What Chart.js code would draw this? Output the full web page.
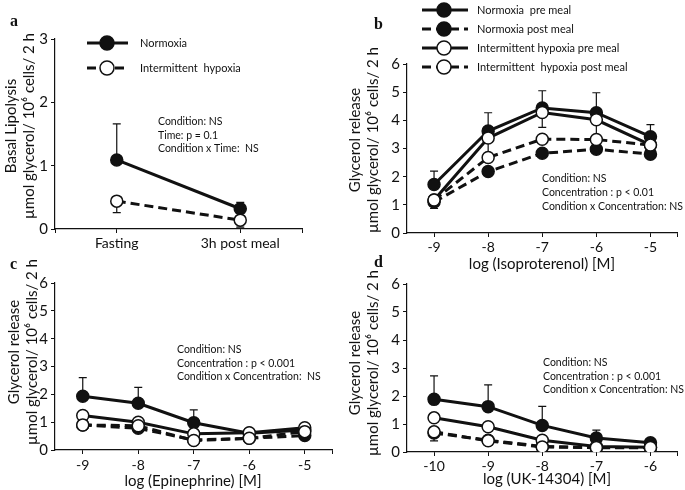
<!DOCTYPE html>
<html><head><meta charset="utf-8">
<script src="https://cdn.jsdelivr.net/npm/chart.js@4.4.1/dist/chart.umd.min.js"></script>
<style>
html,body{margin:0;padding:0;background:#fff;}
#wrap{position:relative;width:685px;height:490px;background:#fff;overflow:hidden;}
canvas{position:absolute;}
</style></head>
<body><div id="wrap">
<canvas id="ca" width="340" height="250" style="left:0;top:0"></canvas>
<canvas id="cb" width="345" height="275" style="left:340px;top:0"></canvas>
<canvas id="cc" width="340" height="240" style="left:0;top:250px"></canvas>
<canvas id="cd" width="345" height="240" style="left:340px;top:250px"></canvas>
</div>
<script>
// ---------- DATA ----------
// Panel a
const aCategories = ['Fasting', '3h post meal'];
const aNormoxia = [1.09, 0.32];
const aNormoxiaErrHi = [1.66, 0.42];
const aHypoxia = [0.44, 0.14];
const aHypoxiaErrLo = [0.26, 0.03];
// Panel b (Isoproterenol)
const bDoses = [-9, -8, -7, -6, -5];
const bNormPre = [1.72, 3.62, 4.44, 4.27, 3.42];
const bNormPreErrHi = [2.2, 4.27, 5.05, 4.98, 3.85];
const bNormPost = [1.1, 2.18, 2.83, 2.97, 2.8];
const bHypPre = [1.17, 3.37, 4.28, 4.02, 3.13];
const bHypPreErrLo = [0.87, 2.75, 3.75, 3.35, 2.95];
const bHypPost = [1.17, 2.68, 3.33, 3.32, 3.12];
// Panel c (Epinephrine)
const cDoses = [-9, -8, -7, -6, -5];
const cNormPre = [1.93, 1.68, 0.98, 0.6, 0.72];
const cNormPreErrHi = [2.6, 2.25, 1.44, null, null];
const cNormPost = [0.9, 0.78, 0.36, 0.42, 0.52];
const cHypPre = [1.24, 1.0, 0.58, 0.62, 0.8];
const cHypPost = [0.9, 0.87, 0.34, 0.42, 0.66];
const cHypPostErrLo = [0.72, null, null, null, null];
// Panel d (UK-14304)
const dDoses = [-10, -9, -8, -7, -6];
const dNormPre = [1.88, 1.62, 0.95, 0.5, 0.33];
const dNormPreErrHi = [2.72, 2.4, 1.63, 0.78, null];
const dNormPost = [0.68, 0.42, 0.2, 0.15, 0.15];
const dHypPre = [1.22, 0.9, 0.42, 0.2, 0.17];
const dHypPost = [0.72, 0.4, 0.18, 0.16, 0.16];
const dHypPostErrLo = [0.4, null, null, null, null];

const yTitleA = ['Basal Lipolysis', 'µmol glycerol/ 10⁶ cells/ 2 h'];
const yTitleG = ['Glycerol release', 'µmol glycerol/ 10⁶ cells/ 2 h'];
const notesA = ['Condition: NS', 'Time: p = 0.1', 'Condition x Time:  NS'];
const notesB = ['Condition: NS', 'Concentration : p < 0.01', 'Condition x Concentration: NS'];
const notesCD = ['Condition: NS', 'Concentration : p < 0.001', 'Condition x Concentration:  NS'];
const notesD = ['Condition: NS', 'Concentration : p < 0.001', 'Condition x Concentration: NS'];

// ---------- STYLE ----------
const FONT = 'Lato, "Liberation Sans", sans-serif';
const INK = '#111';
const DASH = [9, 5];

function series(label, xs, ys, filled, dashed, order, extra) {
  return Object.assign({
    label,
    data: xs.map((x, i) => ({x, y: ys[i]})),
    borderColor: INK,
    borderWidth: 3,
    borderDash: dashed ? DASH : [],
    pointRadius: 6,
    pointBorderWidth: 1.5,
    pointBorderColor: INK,
    pointBackgroundColor: filled ? INK : '#fff',
    fill: false,
    tension: 0,
    order
  }, extra || {});
}

const decor = {
  id: 'decor',
  beforeDatasetsDraw(chart, args, o) {
    const ctx = chart.ctx, xs = chart.scales.x, ys = chart.scales.y;
    ctx.save();
    ctx.strokeStyle = INK; ctx.lineWidth = 1.2; ctx.setLineDash([]);
    chart.data.datasets.forEach(ds => {
      ['errHi', 'errLo'].forEach(k => {
        if (!ds[k]) return;
        ds.data.forEach((p, i) => {
          const e = ds[k][i];
          if (e == null) return;
          const px = xs.getPixelForValue(p.x);
          const y0 = ys.getPixelForValue(p.y), y1 = ys.getPixelForValue(e);
          ctx.beginPath();
          ctx.moveTo(px, y0); ctx.lineTo(px, y1);
          ctx.moveTo(px - 4, y1); ctx.lineTo(px + 4, y1);
          ctx.stroke();
        });
      });
    });
    ctx.restore();
  },
  afterDraw(chart, args, o) {
    const ctx = chart.ctx;
    ctx.save();
    ctx.fillStyle = INK;
    // letter
    ctx.font = 'bold 16px "Liberation Serif", serif';
    ctx.textAlign = 'left'; ctx.textBaseline = 'middle';
    ctx.fillText(o.letter.text, o.letter.x, o.letter.y);
    // y title
    ctx.font = o.yTitle.size + 'px ' + FONT;
    o.yTitle.lines.forEach((t, i) => {
      ctx.save();
      ctx.translate(o.yTitle.xs[i], o.yTitle.cy);
      ctx.rotate(-Math.PI / 2);
      ctx.textAlign = 'center'; ctx.textBaseline = 'middle';
      ctx.fillText(t, 0, 0);
      ctx.restore();
    });
    // x title
    if (o.xTitle) {
      ctx.font = '15px ' + FONT;
      ctx.textAlign = 'center'; ctx.textBaseline = 'middle';
      ctx.fillText(o.xTitle.text, o.xTitle.cx, o.xTitle.y);
    }
    // notes
    ctx.font = '10.5px ' + FONT;
    ctx.textAlign = 'left'; ctx.textBaseline = 'middle';
    o.notes.lines.forEach((t, i) => ctx.fillText(t, o.notes.x, o.notes.y + i * o.notes.dy));
    // legend
    if (o.legend) {
      const L = o.legend;
      L.items.forEach((it, i) => {
        const y = L.y + i * L.dy;
        ctx.strokeStyle = INK; ctx.lineWidth = 3;
        ctx.setLineDash(it.dashed ? DASH : []);
        ctx.beginPath(); ctx.moveTo(L.x0, y); ctx.lineTo(L.x1, y); ctx.stroke();
        ctx.setLineDash([]);
        ctx.lineWidth = 1.5;
        ctx.beginPath(); ctx.arc(L.xm, y, 7, 0, Math.PI * 2);
        ctx.fillStyle = it.filled ? INK : '#fff';
        ctx.fill(); ctx.stroke();
        ctx.fillStyle = INK;
        ctx.font = '11px ' + FONT;
        ctx.fillText(it.label, L.xt, y);
      });
    }
    ctx.restore();
  }
};

function axisCommon() {
  return {
    grid: {display: true, drawOnChartArea: false, drawTicks: true, tickLength: 4, color: INK, lineWidth: 1},
    border: {display: true, color: INK, width: 1.2}
  };
}

function makeChart(id, datasets, cfg) {
  const x = Object.assign(axisCommon(), {
    type: 'linear', min: cfg.xmin, max: cfg.xmax,
    afterBuildTicks: s => { s.ticks = cfg.xTicks.map(v => ({value: v})); },
    afterFit: s => { s.height = cfg.xh; },
    ticks: {autoSkip: false, maxRotation: 0, padding: cfg.xpad, color: INK,
      font: {family: FONT, size: 14}, callback: cfg.xLabel}
  });
  const y = Object.assign(axisCommon(), {
    type: 'linear', min: 0, max: cfg.ymax,
    afterFit: s => { s.width = cfg.yw; },
    ticks: {stepSize: 1, padding: 3, color: INK, font: {family: FONT, size: 15}}
  });
  return new Chart(document.getElementById(id), {
    type: 'line',
    data: {datasets},
    options: {
      responsive: false, animation: false, devicePixelRatio: 1,
      layout: {padding: {top: cfg.pt, right: cfg.pr, left: 0, bottom: 0}},
      scales: {x, y},
      plugins: {legend: {display: false}, tooltip: {enabled: false}, decor: cfg.decor}
    },
    plugins: [decor]
  });
}

const aIdx = aCategories.map((c, i) => i);
makeChart('ca', [
  series('Intermittent  hypoxia', aIdx, aHypoxia, false, true, 0, {errLo: aHypoxiaErrLo}),
  series('Normoxia', aIdx, aNormoxia, true, false, 1, {errHi: aNormoxiaErrHi})
], {
  xmin: -0.5, xmax: 1.5, xTicks: [-0.5, 0, 1, 1.5], ymax: 3,
  xLabel: v => (aCategories[v] !== undefined ? aCategories[v] : ''),
  xh: 21, yw: 55, pt: 39, pr: 38, xpad: 2,
  decor: {
    letter: {text: 'a', x: 10, y: 22},
    yTitle: {lines: yTitleA, xs: [11, 29], cy: 126, size: 15},
    notes: {lines: notesA, x: 158, y: 122, dy: 13.5},
    legend: {x0: 87, x1: 128, xm: 107, xt: 140, y: 43, dy: 25,
      items: [{label: 'Normoxia', filled: true, dashed: false},
              {label: 'Intermittent  hypoxia', filled: false, dashed: true}]}
  }
});

const doseLabel = v => (Number.isInteger(v) ? String(v) : '');

makeChart('cb', [
  series('Intermittent hypoxia post meal', bDoses, bHypPost, false, true, 0),
  series('Intermittent hypoxia pre meal', bDoses, bHypPre, false, false, 1, {errLo: bHypPreErrLo}),
  series('Normoxia post meal', bDoses, bNormPost, true, true, 2),
  series('Normoxia pre meal', bDoses, bNormPre, true, false, 3, {errHi: bNormPreErrHi})
], {
  xmin: -9.5, xmax: -4.5, xTicks: [-9, -8, -7, -6, -5, -4.5], ymax: 6,
  xLabel: doseLabel, xh: 42, yw: 67, pt: 64, pr: 2, xpad: 2,
  decor: {
    letter: {text: 'b', x: 34, y: 25},
    yTitle: {lines: yTitleG, xs: [15, 33], cy: 140, size: 15},
    xTitle: {text: 'log (Isoproterenol) [M]', cx: 202, y: 264},
    notes: {lines: notesB, x: 202, y: 179, dy: 14},
    legend: {x0: 82, x1: 128, xm: 104, xt: 137, y: 10, dy: 19,
      items: [{label: 'Normoxia  pre meal', filled: true, dashed: false},
              {label: 'Normoxia post meal', filled: true, dashed: true},
              {label: 'Intermittent hypoxia pre meal', filled: false, dashed: false},
              {label: 'Intermittent  hypoxia post meal', filled: false, dashed: true}]}
  }
});

makeChart('cc', [
  series('Intermittent hypoxia post meal', cDoses, cHypPost, false, true, 0, {errLo: cHypPostErrLo}),
  series('Intermittent hypoxia pre meal', cDoses, cHypPre, false, false, 1),
  series('Normoxia post meal', cDoses, cNormPost, true, true, 2),
  series('Normoxia pre meal', cDoses, cNormPre, true, false, 3, {errHi: cNormPreErrHi})
], {
  xmin: -9.5, xmax: -4.5, xTicks: [-9, -8, -7, -6, -5, -4.5], ymax: 6,
  xLabel: doseLabel, xh: 40, yw: 55, pt: 33, pr: 7, xpad: 3,
  decor: {
    letter: {text: 'c', x: 10, y: 15},
    yTitle: {lines: yTitleG, xs: [14, 32], cy: 102, size: 15},
    xTitle: {text: 'log (Epinephrine) [M]', cx: 193, y: 231},
    notes: {lines: notesCD, x: 177, y: 100, dy: 13.5}
  }
});

makeChart('cd', [
  series('Intermittent hypoxia post meal', dDoses, dHypPost, false, true, 0, {errLo: dHypPostErrLo}),
  series('Intermittent hypoxia pre meal', dDoses, dHypPre, false, false, 1),
  series('Normoxia post meal', dDoses, dNormPost, true, true, 2),
  series('Normoxia pre meal', dDoses, dNormPre, true, false, 3, {errHi: dNormPreErrHi})
], {
  xmin: -10.5, xmax: -5.5, xTicks: [-10, -9, -8, -7, -6, -5.5], ymax: 6,
  xLabel: doseLabel, xh: 38, yw: 67, pt: 34, pr: 2, xpad: 2,
  decor: {
    letter: {text: 'd', x: 34, y: 13},
    yTitle: {lines: yTitleG, xs: [15, 33], cy: 113, size: 15},
    xTitle: {text: 'log (UK-14304) [M]', cx: 207, y: 229},
    notes: {lines: notesD, x: 203, y: 113, dy: 13.5}
  }
});
</script>
</body></html>
